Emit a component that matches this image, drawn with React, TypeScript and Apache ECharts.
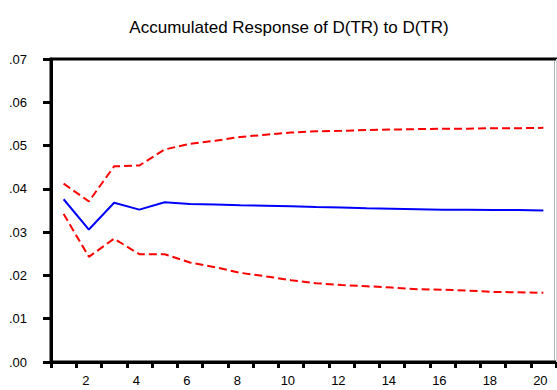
import React, { useEffect, useRef } from "react";
import * as echarts from "echarts";

const periods = ["1","2","3","4","5","6","7","8","9","10","11","12","13","14","15","16","17","18","19","20"];
const response = [0.0376,0.0306,0.0368,0.0352,0.0369,0.0365,0.0364,0.0362,0.0361,0.0360,0.0358,0.0357,0.0355,0.0354,0.0353,0.0352,0.0352,0.0351,0.0351,0.0350];
const upperBand = [0.0412,0.0371,0.0452,0.0454,0.0491,0.0504,0.0511,0.0520,0.0525,0.0530,0.0533,0.0534,0.0536,0.0537,0.0538,0.0539,0.0539,0.0540,0.0540,0.0541];
const lowerBand = [0.0342,0.0243,0.0285,0.0249,0.0249,0.0230,0.0219,0.0206,0.0198,0.0189,0.0182,0.0178,0.0175,0.0172,0.0168,0.0167,0.0165,0.0162,0.0161,0.0160];
const titleText = "Accumulated Response of D(TR) to D(TR)";

export default function App() {
  const ref = useRef<HTMLDivElement>(null);
  useEffect(() => {
    if (!ref.current) return;
    const chart = echarts.init(ref.current, null, { renderer: "svg" });
    const font = "'Liberation Sans', Arial, sans-serif";
    chart.setOption({
      animation: false,
      backgroundColor: "#ffffff",
      title: {
        text: titleText,
        left: 284,
        textAlign: "center",
        top: 14,
        textStyle: { fontFamily: font, fontSize: 17, fontWeight: "normal", color: "#000" },
      },
      grid: {
        left: 51,
        top: 59,
        right: 1,
        bottom: 28,
        show: true,
        borderColor: "#000",
        borderWidth: 3,
        backgroundColor: "transparent",
      },
      xAxis: [
        {
          type: "category",
          data: periods,
          boundaryGap: true,
          axisLine: { show: true, onZero: false, lineStyle: { color: "#000", width: 3 } },
          axisTick: { show: true, interval: 0, length: 6, lineStyle: { color: "#000", width: 3 } },
          axisLabel: {
            interval: (i: number) => i % 2 === 1,
            color: "#000",
            fontFamily: font,
            fontSize: 13,
            margin: 12,
            padding: [0, 6, 0, 0],
          },
          splitLine: { show: false },
        },
      ],
      yAxis: [
        {
          type: "value",
          min: 0,
          max: 0.07,
          interval: 0.01,
          axisLine: { show: true, onZero: false, lineStyle: { color: "#000", width: 3 } },
          axisTick: { show: true, length: 8, lineStyle: { color: "#000", width: 3 } },
          axisLabel: {
            color: "#000",
            fontFamily: font,
            fontSize: 13,
            margin: 24,
            verticalAlign: "middle",
            formatter: (v: number) => v.toFixed(2).replace(/^0/, ""),
          },
          splitLine: { show: false },
        },
      ],
      graphic: [
        {
          type: "rect",
          z: 100,
          shape: { x: 554.6, y: 60.6, width: 3, height: 299.8 },
          style: { fill: "#ffffff" },
        },
        {
          type: "line",
          z: 101,
          shape: { x1: 556.5, y1: 59, x2: 556.5, y2: 362 },
          style: { stroke: "#d4d4d4", lineWidth: 1 },
        },
      ],
      series: [
        {
          type: "line",
          data: upperBand,
          symbol: "none",
          lineStyle: { color: "#ff0000", width: 2, type: [8, 4] },
        },
        {
          type: "line",
          data: lowerBand,
          symbol: "none",
          lineStyle: { color: "#ff0000", width: 2, type: [8, 4] },
        },
        {
          type: "line",
          data: response,
          symbol: "none",
          lineStyle: { color: "#0000ff", width: 2, type: "solid" },
        },
      ],
    });
    return () => chart.dispose();
  }, []);
  return <div ref={ref} style={{ width: 557, height: 390, position: "fixed", left: 0, top: 0 }} />;
}
